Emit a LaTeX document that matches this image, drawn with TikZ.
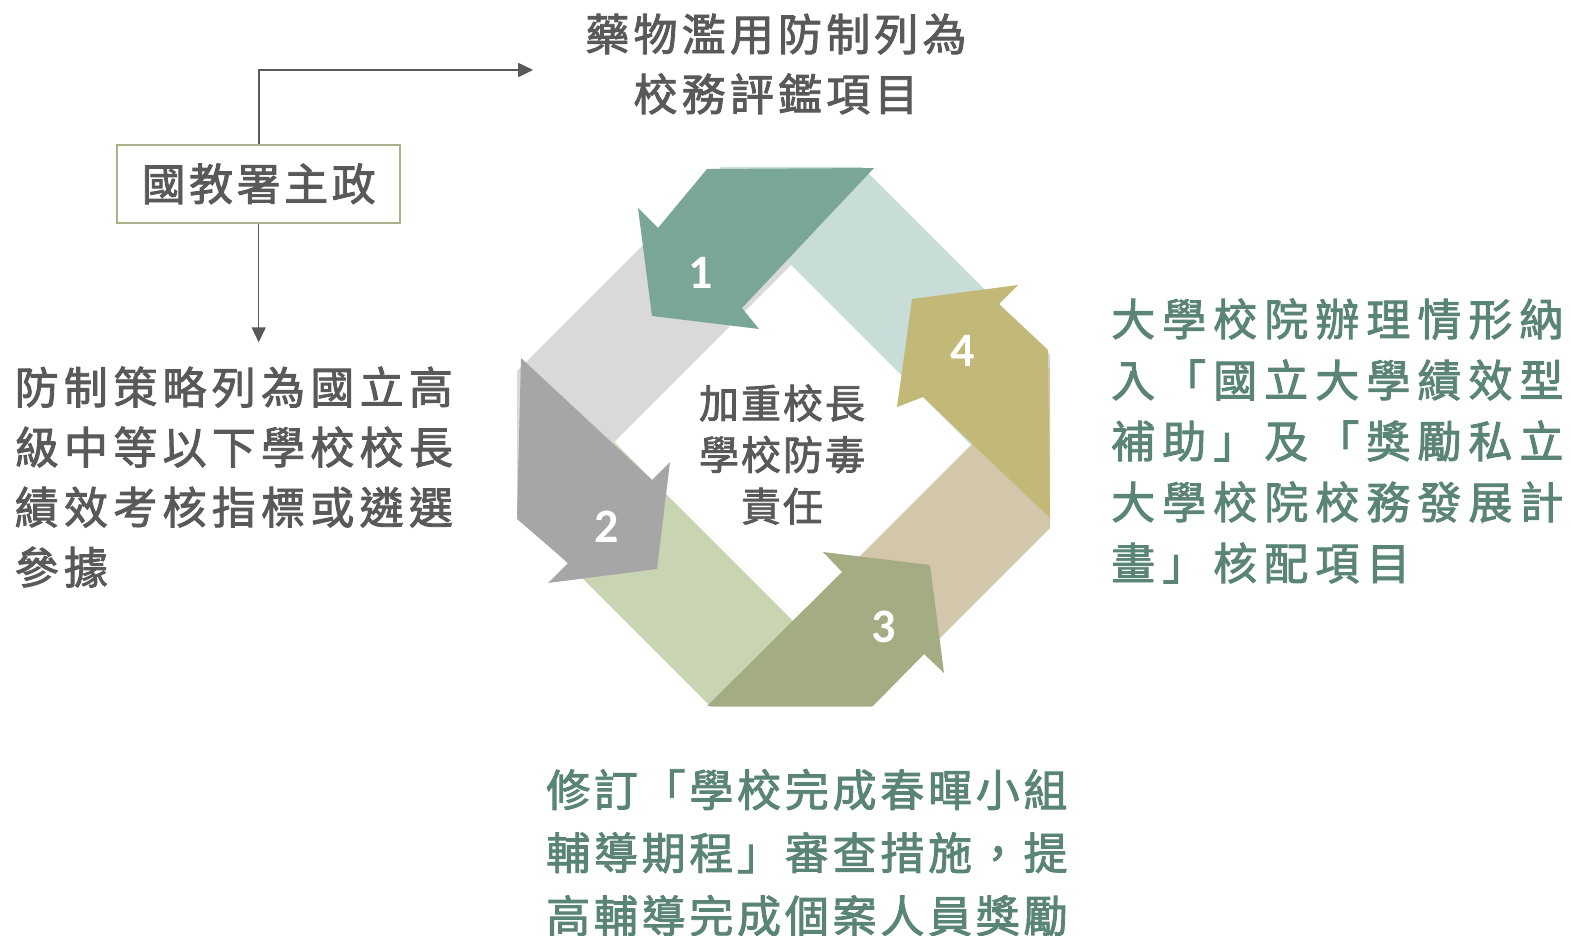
\documentclass[tikz,border=0pt]{standalone}
\usepackage{fontspec}
\newfontfamily\cjk{Noto Sans CJK TC}[FakeBold=2]
\newfontfamily\numfont{Carlito}
\usetikzlibrary{arrows.meta}

\definecolor{txtgray}{HTML}{595959}
\definecolor{txtgreen}{HTML}{5A8474}
\definecolor{boxline}{HTML}{A9B08A}
\definecolor{arrA}{HTML}{7AA69A}
\definecolor{arrB}{HTML}{A6A6A6}
\definecolor{arrC}{HTML}{A3AC82}
\definecolor{arrD}{HTML}{C2B877}
\definecolor{bandNE}{HTML}{C8DDD8}
\definecolor{bandNW}{HTML}{D9D9D9}
\definecolor{bandSW}{HTML}{C9D4B2}
\definecolor{bandSE}{HTML}{D2C7AA}

\begin{document}
\begin{tikzpicture}[x=1pt,y=-1pt,>={Triangle[length=15pt,width=14pt]},
  graytxt/.style={inner sep=0pt,text=txtgray,align=left,
    font=\cjk\fontsize{44}{60}\selectfont\addfontfeature{LetterSpace=#1}},
  graytxt/.default=12,
  greentxt/.style={inner sep=0pt,text=txtgreen,align=left,
    font=\cjk\fontsize{44}{61}\selectfont\addfontfeature{LetterSpace=16}},
  coretxt/.style={inner sep=0pt,text=txtgray,align=center,
    font=\cjk\fontsize{40}{51.5}\selectfont\addfontfeature{LetterSpace=5}},
  mainbox/.style={draw=boxline,line width=2.5pt,minimum width=283pt,minimum height=78pt,
    inner sep=0pt,text=txtgray,font=\cjk\fontsize{44}{44}\selectfont\addfontfeature{LetterSpace=8}},
  digit/.style={text=white,inner sep=0pt,font=\numfont\bfseries\fontsize{48}{48}\selectfont},
  link/.style={draw=txtgray,line width=#1},
  link/.default=1.8pt]

\useasboundingbox (0,0) rectangle (1571,936);

\begin{scope}
  \clip (517,168) rectangle (1050,706);
  \fill[bandNE] (791.5,96.5) -- (707,181) -- (971,445) -- (1055.5,360.5) -- cycle;
  \fill[bandSE] (1055.5,360.5) -- (1136.5,441.5) -- (875,703) -- (794,622) -- cycle;
  \fill[bandSW] (875,703) -- (791,787) -- (530,526) -- (614,442) -- cycle;
  \fill[bandNW] (707,181) -- (791,265) -- (530,526) -- (446,442) -- cycle;
\end{scope}

\fill[arrA] (707,169) -- (874,168) -- (742,308) -- (759,329) -- (652,316) -- (638,208) -- (658,228) -- cycle;
\fill[arrB] (521,358) -- (652,480) -- (670,462) -- (657,569) -- (548,583) -- (568,563) -- (517,519) -- cycle;
\fill[arrC] (707,706) -- (873,706) -- (924,654) -- (944,673) -- (930,565) -- (823,552) -- (842,572) -- cycle;
\fill[arrD] (1018,285) -- (999,304) -- (1048,350) -- (1050,518) -- (923,397) -- (897,407) -- (912,299) -- cycle;

\node[digit] (n1) at (701,272.5) {1};
\node[digit] (n2) at (607,526.5) {2};
\node[digit] (n3) at (883.5,626.5) {3};
\node[digit] (n4) at (963,350.5) {4};

\node[coretxt] (core) at (782,454.5) {加重校長\\學校防毒\\責任};

\node[mainbox] (box) at (258.7,183.8) {國教署主政};
\node[graytxt=9.5,align=center] (toptext) at (776,64) {藥物濫用防制列為\\校務評鑑項目};
\node[graytxt,anchor=west] (lefttext) at (14.5,477) {防制策略列為國立高\\級中等以下學校校長\\績效考核指標或遴選\\參據};
\node[greentxt,anchor=west] (righttext) at (1111,441) {大學校院辦理情形納\\入「國立大學績效型\\補助」及「獎勵私立\\大學校院校務發展計\\畫」核配項目};
\node[greentxt,font=\cjk\fontsize{44}{63}\selectfont\addfontfeature{LetterSpace=8.5},anchor=west] (bottomtext) at (546,852.7) {修訂「學校完成春暉小組\\輔導期程」審查措施，提\\高輔導完成個案人員獎勵};

\draw[link,->,shorten >=52pt] (box.north) |- ([yshift=-6pt]toptext.west);
\draw[link=1.5pt,->,shorten >=24pt] (box.south) -- (box.south |- lefttext.north);

\end{tikzpicture}
\end{document}
